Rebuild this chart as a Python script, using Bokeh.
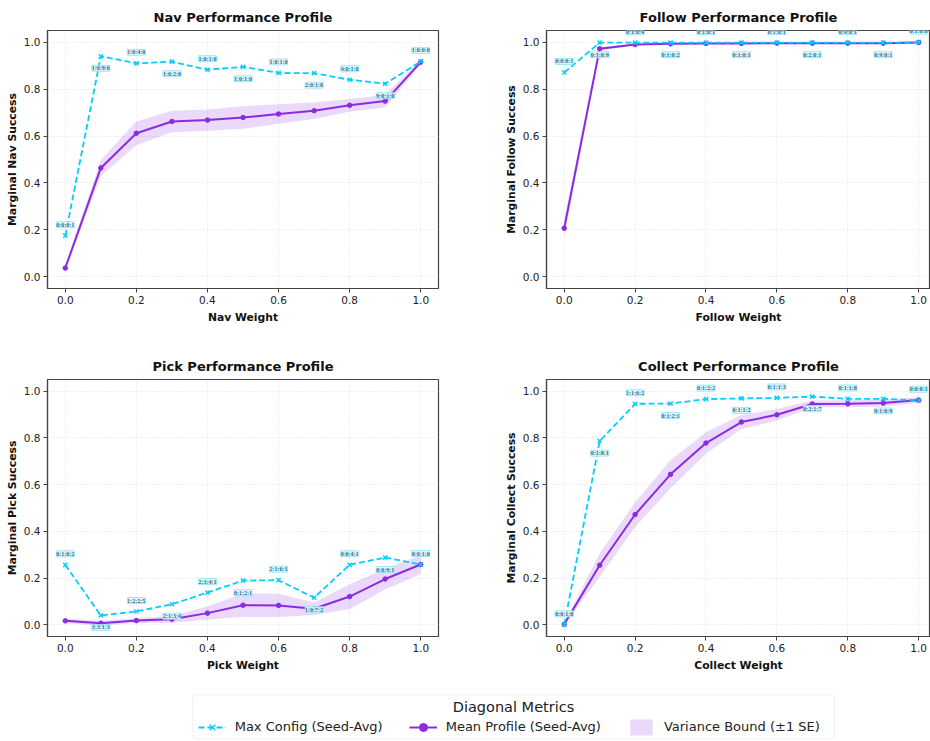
import numpy as np
from bokeh.plotting import figure
from bokeh.models import (ColumnDataSource, LabelSet, Range1d, FixedTicker, Legend,
                          LegendItem, BoxAnnotation, Label, PrintfTickFormatter)
from bokeh.layouts import column, row
from bokeh.embed import file_html
from bokeh.resources import INLINE

# ---------------- data ----------------
weights = [0.0, 0.1, 0.2, 0.3, 0.4, 0.5, 0.6, 0.7, 0.8, 0.9, 1.0]

nav_max = [0.175, 0.940, 0.910, 0.917, 0.883, 0.895, 0.869, 0.868, 0.840, 0.823, 0.918]
nav_mean = [0.037, 0.464, 0.612, 0.662, 0.668, 0.679, 0.694, 0.708, 0.731, 0.749, 0.915]
nav_se = [0.010, 0.035, 0.050, 0.046, 0.045, 0.048, 0.042, 0.035, 0.027, 0.027, 0.010]
nav_cfg = ["0:0:0:1", "1:0:9:0", "1:0:4:0", "1:0:2:0", "1:0:1:0", "1:0:1:0",
           "1:0:1:0", "2:0:1:0", "4:0:1:0", "9:0:1:0", "1:0:0:0"]

follow_max = [0.871, 0.998, 0.998, 0.998, 0.998, 0.998, 0.998, 0.998, 0.998, 0.998, 1.000]
follow_mean = [0.207, 0.972, 0.990, 0.993, 0.995, 0.995, 0.996, 0.996, 0.996, 0.996, 0.999]
follow_se = [0.040, 0.008, 0.004, 0.003, 0.002, 0.002, 0.002, 0.002, 0.002, 0.002, 0.001]
follow_cfg = ["0:0:0:1", "0:1:0:9", "0:1:0:4", "0:1:0:2", "0:1:0:1", "0:1:0:1",
              "0:1:0:1", "0:2:0:1", "0:4:0:1", "0:9:0:1", "0:1:0:0"]

pick_max = [0.257, 0.040, 0.057, 0.088, 0.138, 0.189, 0.191, 0.116, 0.257, 0.288, 0.258]
pick_mean = [0.017, 0.007, 0.018, 0.024, 0.050, 0.084, 0.083, 0.069, 0.121, 0.196, 0.258]
pick_se = [0.010, 0.010, 0.010, 0.015, 0.028, 0.050, 0.050, 0.027, 0.053, 0.045, 0.040]
pick_cfg = ["0:1:0:2", "3:3:1:3", "1:2:2:5", "2:1:3:4", "2:3:4:1", "0:1:2:1",
            "2:1:6:1", "1:0:7:2", "0:0:4:1", "0:0:9:1", "0:0:1:0"]

collect_max = [0.000, 0.786, 0.946, 0.947, 0.966, 0.969, 0.971, 0.977, 0.967, 0.967, 0.961]
collect_mean = [0.003, 0.255, 0.472, 0.644, 0.778, 0.868, 0.899, 0.945, 0.946, 0.949, 0.962]
collect_se = [0.005, 0.050, 0.053, 0.060, 0.046, 0.030, 0.025, 0.015, 0.015, 0.015, 0.012]
collect_cfg = ["0:0:1:0", "0:1:8:1", "1:1:6:2", "0:1:2:1", "0:1:2:2", "0:1:1:2",
               "0:1:1:3", "0:2:1:7", "0:1:1:8", "0:1:0:9", "0:0:0:1"]

tick_vals = [0.0, 0.2, 0.4, 0.6, 0.8, 1.0]

# ---------------- style ----------------
FONT = "DejaVu Sans"
CYAN = "#00CFFF"
PURPLE = "#8A2BE2"
SPINE = "#444444"


def make_panel(name, mx, mean, se, cfg, width, height, bl, br, bt, bb, x_end):
    p = figure(width=width, height=height, output_backend="svg", toolbar_location=None,
               x_range=Range1d(-0.05, x_end), y_range=Range1d(-0.05, 1.05),
               min_border_left=bl, min_border_right=br, min_border_top=bt,
               min_border_bottom=bb, background_fill_color="white",
               border_fill_color="white")
    p.title.text = f"{name} Performance Profile"
    p.title.align = "center"
    p.title.text_font = FONT
    p.title.text_font_size = "13px"
    p.title.text_font_style = "bold"
    p.title.text_color = "#111111"
    p.title.standoff = 11
    p.outline_line_color = SPINE
    p.outline_line_width = 1.2
    p.outline_line_alpha = 1.0

    for ax in (p.xaxis[0], p.yaxis[0]):
        ax.ticker = FixedTicker(ticks=tick_vals)
        ax.formatter = PrintfTickFormatter(format="%.1f")
        ax.minor_tick_line_color = None
        ax.major_tick_in = 0
        ax.major_tick_out = 4
        ax.major_tick_line_color = SPINE
        ax.axis_line_color = SPINE
        ax.axis_line_width = 1.2
        ax.major_label_text_font = FONT
        ax.major_label_text_font_size = "10.5px"
        ax.major_label_text_color = "#222222"
        ax.major_label_standoff = 3
        ax.axis_label_text_font = FONT
        ax.axis_label_text_font_size = "10.8px"
        ax.axis_label_text_font_style = "bold"
        ax.axis_label_text_color = "#111111"
        ax.axis_label_standoff = 4
    p.yaxis[0].axis_label_standoff = 2
    p.xaxis.axis_label = f"{name} Weight"
    p.yaxis.axis_label = f"Marginal {name} Success"

    p.grid.grid_line_color = "#dcdcdc"
    p.grid.grid_line_dash = "1 2"
    p.grid.grid_line_width = 0.9
    p.xgrid.ticker = FixedTicker(ticks=tick_vals)
    p.ygrid.ticker = FixedTicker(ticks=tick_vals)

    lo = [m - s for m, s in zip(mean, se)]
    hi = [m + s for m, s in zip(mean, se)]
    side = [1 if i % 2 == 0 else -1 for i in range(len(weights))]
    src = ColumnDataSource(dict(x=weights, mx=mx, mean=mean, lo=lo, hi=hi, cfg=cfg,
                                side=side))

    p.varea(x="x", y1="lo", y2="hi", source=src, fill_color=PURPLE, fill_alpha=0.18)
    p.line(x="x", y="mean", source=src, line_color=PURPLE, line_width=2)
    p.scatter(x="x", y="mean", source=src, marker="circle", size=4.5,
              fill_color=PURPLE, line_color=PURPLE)
    p.line(x="x", y="mx", source=src, line_color=CYAN, line_width=1.8, line_dash="6 3")
    p.scatter(x="x", y="mx", source=src, marker="x", size=6, line_color=CYAN,
              line_width=1.4)

    for s, off in ((1, 11), (-1, -12)):
        idx = [i for i in range(len(weights)) if side[i] == s]
        lsrc = ColumnDataSource(dict(x=[weights[i] for i in idx], y=[mx[i] for i in idx],
                                     t=[cfg[i] for i in idx]))
        ls = LabelSet(x="x", y="y", text="t", source=lsrc, y_offset=off,
                      text_align="center", text_baseline="middle",
                      text_font=FONT, text_font_size="6px", text_font_style="bold",
                      text_color="#1f6f8b", background_fill_color="#dcf6ff",
                      background_fill_alpha=0.95, border_line_color="#8fe3f7",
                      border_line_width=0.8)
        p.add_layout(ls)
    return p


p1 = make_panel("Nav", nav_max, nav_mean, nav_se, nav_cfg, 465, 350, 47, 27, 30, 62, 1.05)
p2 = make_panel("Follow", follow_max, follow_mean, follow_se, follow_cfg, 465, 350, 81, 0, 30, 62, 1.0335)
p3 = make_panel("Pick", pick_max, pick_mean, pick_se, pick_cfg, 465, 340, 47, 27, 29, 54, 1.05)
p4 = make_panel("Collect", collect_max, collect_mean, collect_se, collect_cfg, 465, 340, 81, 0, 29, 54, 1.0335)

# ---------------- legend strip ----------------
lf = figure(width=930, height=51, output_backend="svg", toolbar_location=None,
            x_range=Range1d(0, 930), y_range=Range1d(0, 51),
            min_border=0, min_border_left=0, min_border_right=0,
            min_border_top=0, min_border_bottom=0)
lf.axis.visible = False
lf.grid.visible = False
lf.outline_line_color = None
box = BoxAnnotation(left=192.3, right=834, bottom=2.7, top=46.7, fill_color="white",
                    fill_alpha=1.0, line_color="#cccccc", line_width=1, border_radius=3,
                    level="underlay")
lf.add_layout(box)
lf.add_layout(Label(x=513, y=34.3, text="Diagonal Metrics", text_align="center",
                    text_baseline="middle", text_font=FONT, text_font_size="14.5px",
                    text_color="#222222"))
far_x = [-500, -400]
far_y = [-500, -400]
r_ml = lf.line(x=far_x, y=far_y, line_color=CYAN, line_width=1.8, line_dash="6 3")
r_mx = lf.scatter(x=far_x, y=far_y, marker="x", size=6, line_color=CYAN, line_width=1.4)
r_pl = lf.line(x=far_x, y=far_y, line_color=PURPLE, line_width=2)
r_pc = lf.scatter(x=far_x, y=far_y, marker="circle", size=5, fill_color=PURPLE,
                  line_color=PURPLE)
r_va = lf.varea(x=far_x, y1=far_y, y2=[-450, -350], fill_color=PURPLE, fill_alpha=0.18)
leg = Legend(items=[LegendItem(label="Max Config (Seed-Avg)", renderers=[r_ml, r_mx]),
                    LegendItem(label="Mean Profile (Seed-Avg)", renderers=[r_pl, r_pc]),
                    LegendItem(label="Variance Bound (±1 SE)", renderers=[r_va])],
             orientation="horizontal", location=(197.7, 4.3), padding=0, margin=0,
             spacing=26, glyph_width=28, glyph_height=20, label_height=20,
             label_standoff=9, label_text_font=FONT, label_text_font_size="13px",
             label_text_color="#222222", border_line_color=None,
             background_fill_alpha=0.0)
lf.add_layout(leg)

layout = column(row(p1, p2), row(p3, p4), lf)
open("out.html", "w").write(file_html(layout, INLINE))
